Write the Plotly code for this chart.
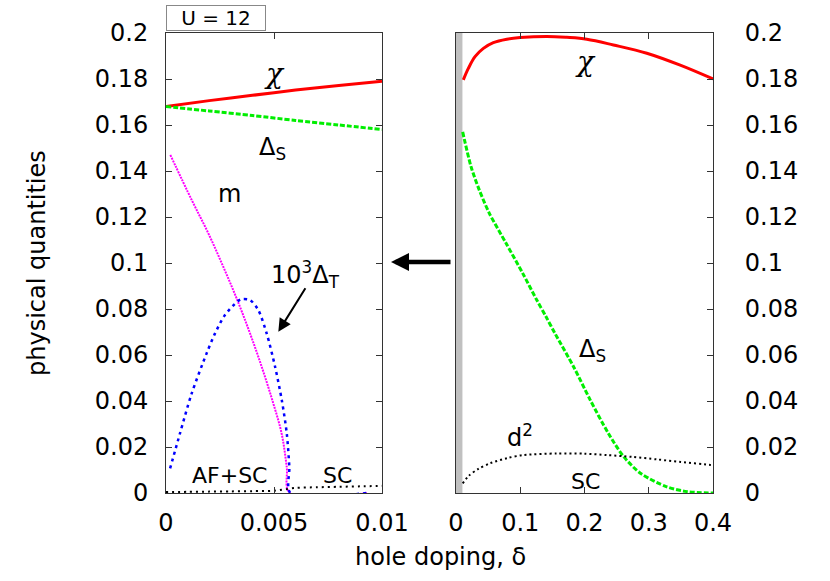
import plotly.graph_objects as go

# ---- left panel data (delta 0 .. 0.01) ----
x_left = [0.0, 0.002, 0.004, 0.006, 0.008, 0.01]
chi_left = [0.168, 0.1706, 0.1729, 0.1752, 0.1772, 0.179]
ds_left = [0.168, 0.1661, 0.1641, 0.1620, 0.1600, 0.158]

x_m = [0.0002, 0.00119, 0.00196, 0.00265, 0.0033, 0.00389, 0.00443, 0.00492, 0.00535, 0.00559, 0.00574, 0.0093]
m_left = [0.147, 0.1274, 0.1129, 0.0984, 0.0839, 0.0694, 0.0549, 0.0404, 0.026, 0.0114, 0.0, 0.0]

x_dt = [0.00019, 0.00065, 0.00119, 0.00188, 0.00227, 0.00273, 0.0033, 0.0035, 0.00389, 0.00427, 0.00466,
        0.00505, 0.00536, 0.00559, 0.00571, 0.00576, 0.0093]
dt_left = [0.0107, 0.026, 0.0433, 0.0607, 0.0694, 0.0774, 0.0832, 0.0843, 0.0839, 0.0796, 0.0694,
           0.0549, 0.0404, 0.026, 0.0114, 0.0, 0.0]

x_d2l = [0.0, 0.001, 0.002, 0.003, 0.004, 0.005, 0.006, 0.007, 0.008, 0.009, 0.01]
d2_left = [0.0004, 0.0005, 0.0006, 0.0007, 0.0008, 0.001, 0.0022, 0.0025, 0.0027, 0.0029, 0.0031]

# ---- right panel data (delta 0 .. 0.4) ----
x_chi_r = [0.0114, 0.0192, 0.0296, 0.0426, 0.0581, 0.079, 0.0997, 0.1413, 0.1724, 0.2036, 0.245, 0.297, 0.349, 0.4]
chi_right = [0.1796, 0.1846, 0.1897, 0.1933, 0.1958, 0.1973, 0.198, 0.1985, 0.1981, 0.1973, 0.1948, 0.1912, 0.186, 0.18]

x_ds_r = [0.0104, 0.0234, 0.0363, 0.0519, 0.0779, 0.1039, 0.1257, 0.14, 0.154, 0.183, 0.209, 0.237, 0.261, 0.287, 0.328, 0.36, 0.4]
ds_right = [0.157, 0.1419, 0.1317, 0.1216, 0.1086, 0.0955, 0.0839, 0.0767, 0.0694, 0.0549, 0.0404, 0.026, 0.0158, 0.0086, 0.0027, 0.0006, 0.0]

x_d2_r = [0.0104, 0.02, 0.035, 0.053, 0.08, 0.105, 0.157, 0.2, 0.235, 0.275, 0.313, 0.35, 0.396, 0.4]
d2_right = [0.0042, 0.0075, 0.0105, 0.0129, 0.0152, 0.0165, 0.0172, 0.0171, 0.0165, 0.0157, 0.0146, 0.0135, 0.0122, 0.0121]

y_ticks = [0, 0.02, 0.04, 0.06, 0.08, 0.1, 0.12, 0.14, 0.16, 0.18, 0.2]
y_ticktext = ["0", "0.02", "0.04", "0.06", "0.08", "0.1", "0.12", "0.14", "0.16", "0.18", "0.2"]
xl_ticks = [0, 0.005, 0.01]
xl_ticktext = ["0", "0.005", "0.01"]
xr_ticks = [0, 0.1, 0.2, 0.3, 0.4]
xr_ticktext = ["0", "0.1", "0.2", "0.3", "0.4"]

W, H = 830, 581
FONT = "DejaVu Sans"


def px(x):
    return x / W


def py(y):
    return 1 - y / H


def curve(x, y, color, width, dash, xa, ya, smooth=0.8):
    return go.Scatter(x=x, y=y, mode="lines", xaxis=xa, yaxis=ya,
                      line=dict(color=color, width=width, dash=dash, shape="spline", smoothing=smooth))


fig = go.Figure()

# left panel
fig.add_trace(curve(x_left, chi_left, "#ff0000", 3, "solid", "x", "y"))
fig.add_trace(curve(x_left, ds_left, "#00ee00", 3, "5px,2px", "x", "y"))
fig.add_trace(curve(x_m, m_left, "#ff00ff", 2, "2px,1px", "x", "y", 1.0))
fig.add_trace(curve(x_dt, dt_left, "#0000ff", 2.5, "3px,4px", "x", "y", 0.8))
fig.add_trace(curve(x_d2l, d2_left, "black", 2, "2px,4px", "x", "y"))

# right panel
fig.add_trace(curve(x_chi_r, chi_right, "#ff0000", 3, "solid", "x2", "y2", 1.0))
fig.add_trace(curve(x_ds_r, ds_right, "#00ee00", 3, "5px,2px", "x2", "y2"))
fig.add_trace(curve(x_d2_r, d2_right, "black", 2, "2px,3px", "x2", "y2"))

ax_common = dict(showgrid=False, zeroline=False, showline=True, linecolor="#333333", linewidth=1,
                 ticks="inside", ticklen=6, tickcolor="#333333", automargin=False,
                 tickfont=dict(family=FONT, size=24, color="black"))

fig.update_layout(
    width=W, height=H,
    margin=dict(l=0, r=0, t=0, b=0, autoexpand=False),
    paper_bgcolor="white", plot_bgcolor="white",
    showlegend=False,
    xaxis=dict(domain=[px(166), px(382)], range=[0, 0.01], tickvals=xl_ticks, ticktext=xl_ticktext,
               mirror="ticks", anchor="y", ticklabelstandoff=8, **ax_common),
    yaxis=dict(domain=[py(493), py(33)], range=[0, 0.2], tickvals=y_ticks, ticktext=y_ticktext,
               mirror="ticks", anchor="x", ticklabelstandoff=12, **ax_common),
    xaxis2=dict(domain=[px(456), px(713)], range=[0, 0.4], tickvals=xr_ticks, ticktext=xr_ticktext,
                mirror="ticks", anchor="y2", ticklabelstandoff=8, **ax_common),
    yaxis2=dict(domain=[py(493), py(33)], range=[0, 0.2], tickvals=y_ticks, ticktext=y_ticktext,
                side="right", mirror=True, anchor="x2", ticklabelstandoff=26, **ax_common),
)

# gray band (0 .. 0.01) in right panel
fig.add_shape(type="rect", xref="x2", yref="y2", x0=0, x1=0.01, y0=0, y1=0.2,
              fillcolor="#c0c0c0", line=dict(width=0), layer="below")

# U = 12 box
fig.add_annotation(xref="paper", yref="paper", x=px(215.5), y=py(17.5), xanchor="center", yanchor="middle",
                   text="U = 12", showarrow=False,
                   font=dict(family=FONT, size=20, color="black"), bordercolor="#888888", borderwidth=1,
                   width=96, height=22, bgcolor="white")


def label(text, x, y, xref, yref, size=24, family=FONT, angle=0):
    fig.add_annotation(xref=xref, yref=yref, x=x, y=y, text=text, showarrow=False, textangle=angle,
                       xanchor="center", yanchor="middle",
                       font=dict(family=family, size=size, color="black"))


label("<i>χ</i>", 0.0050, 0.1822, "x", "y", 28, "DejaVu Serif")
label("Δ<sub>S</sub>", 0.00495, 0.150, "x", "y")
label("m", 0.00296, 0.130, "x", "y")
label("10<sup>3</sup>Δ<sub>T</sub>", 0.00648, 0.0948, "x", "y")
label("AF+SC", 0.00296, 0.0078, "x", "y", 22)
label("SC", 0.00796, 0.0078, "x", "y", 22)

label("<i>χ</i>", 0.201, 0.1874, "x2", "y2", 28, "DejaVu Serif")
label("Δ<sub>S</sub>", 0.212, 0.062, "x2", "y2")
label("d<sup>2</sup>", 0.0997, 0.0250, "x2", "y2")
label("SC", 0.201, 0.0048, "x2", "y2", 22)

# arrow pointing to 10^3 Delta_T curve
fig.add_annotation(xref="x", yref="y", x=0.0052, y=0.0701, ax=28, ay=-45, text="", showarrow=True,
                   arrowhead=2, arrowsize=1.3, arrowwidth=2, arrowcolor="black", standoff=0)
# big arrow between the panels
fig.add_annotation(xref="paper", yref="paper", x=px(391), y=py(262), ax=61, ay=0, text="", showarrow=True,
                   arrowhead=2, arrowsize=0.8, arrowwidth=4.5, arrowcolor="black", standoff=0)

# axis titles
label("physical quantities", px(37), py(263), "paper", "paper", angle=-90)
label("hole doping, δ", px(440), py(557), "paper", "paper")

# page body margin would shift the fixed-size figure
fig.write_html("out.html", config={"displayModeBar": False},
               post_script="document.body.style.margin='0';")
